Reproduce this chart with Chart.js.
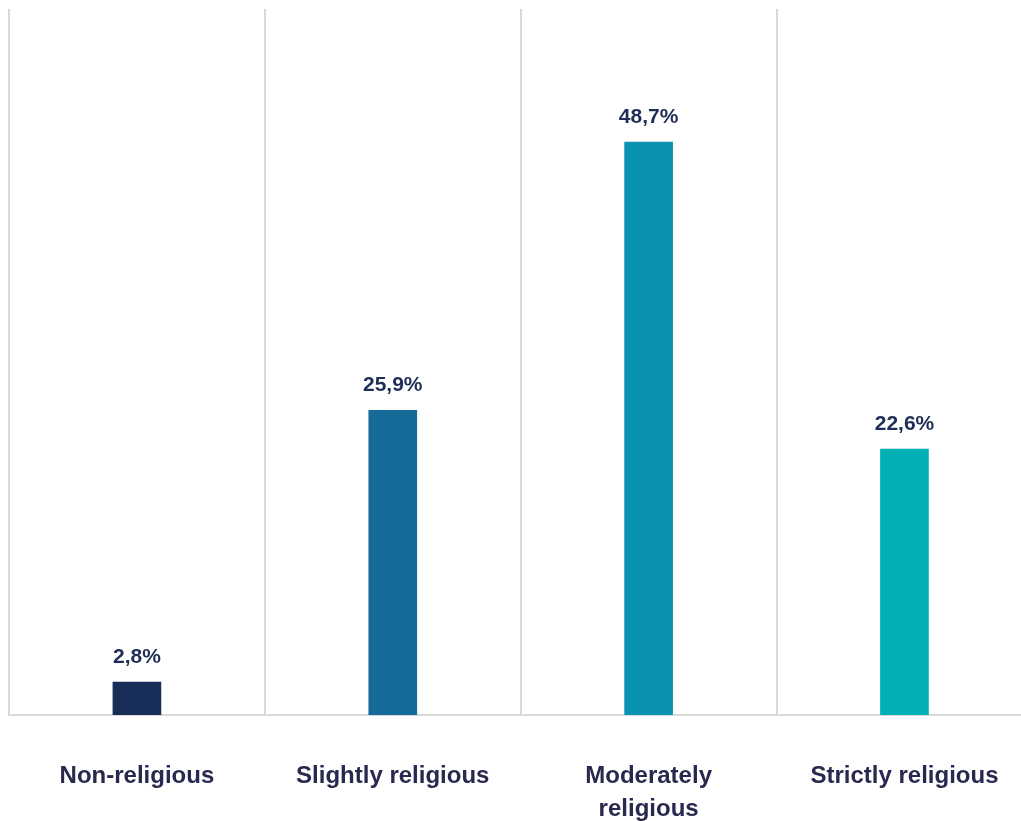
<!DOCTYPE html>
<html>
<head>
<meta charset="utf-8">
<title>Religiosity</title>
<script src="https://cdn.jsdelivr.net/npm/chart.js@4"></script>
<style>
  html, body { margin: 0; padding: 0; background: #fff; overflow: hidden; }
  #wrap { width: 1021px; height: 821px; overflow: hidden; }
</style>
</head>
<body>
<div id="wrap">
  <canvas id="myChart" width="1045" height="821"></canvas>
</div>
<script>
const categories = ["Non-religious", "Slightly religious", ["Moderately", "religious"], "Strictly religious"];
const shares = [2.8, 25.9, 48.7, 22.6];
const barColors = ["#182e59", "#156a99", "#0993b0", "#00b0b4"];

const ctx = document.getElementById("myChart").getContext("2d");

// writes the percentage above each bar
const valueLabels = {
  id: "valueLabels",
  afterDatasetsDraw(chart) {
    const c = chart.ctx;
    const meta = chart.getDatasetMeta(0);
    c.save();
    c.font = "bold 21px 'Liberation Sans', Arial, sans-serif";
    c.fillStyle = "#1f2e56";
    c.textAlign = "center";
    c.textBaseline = "alphabetic";
    meta.data.forEach((bar, i) => {
      const txt = shares[i].toFixed(1).replace(".", ",") + "%";
      c.fillText(txt, bar.x, bar.y - 19);
    });
    c.restore();
  },
};

const barChart = new Chart(ctx, {
  type: "bar",
  data: {
    labels: categories,
    datasets: [
      {
        label: "",
        data: shares,
        backgroundColor: barColors,
        barThickness: 48,
      },
    ],
  },
  options: {
    responsive: false,
    animation: false,
    layout: {
      padding: { left: 9, right: 12, top: 9, bottom: 0 },
    },
    plugins: {
      legend: { display: false },
      tooltip: { enabled: false },
    },
    scales: {
      x: {
        afterFit: (scale) => {
          scale.height = 106;
        },
        grid: {
          display: true,
          offset: true,
          color: "#d9d9d9",
          lineWidth: 2,
          drawTicks: false,
        },
        border: {
          display: true,
          color: "#d9d9d9",
          width: 2,
        },
        ticks: {
          padding: 45,
          maxRotation: 0,
          autoSkip: false,
          color: "#29294f",
          font: {
            family: "'Liberation Sans', Arial, sans-serif",
            size: 24,
            weight: "bold",
            lineHeight: 1.375,
          },
        },
      },
      y: {
        display: false,
        min: 0,
        max: 60,
      },
    },
  },
  plugins: [valueLabels],
});
</script>
</body>
</html>
